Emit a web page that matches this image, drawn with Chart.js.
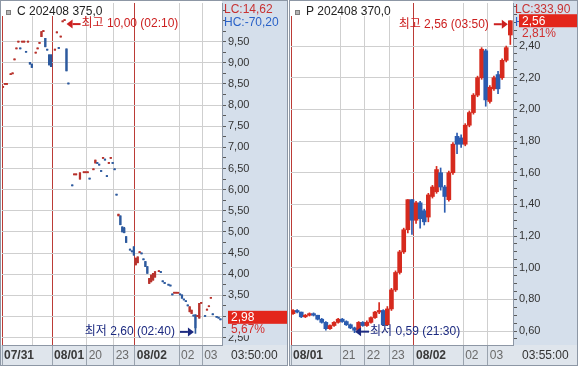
<!DOCTYPE html>
<html>
<head>
<meta charset="utf-8">
<script src="https://cdn.jsdelivr.net/npm/chart.js@4.4.1/dist/chart.umd.min.js"></script>
<style>
  html, body { margin: 0; padding: 0; background: #fff; }
  #wrap { position: relative; width: 578px; height: 366px; overflow: hidden; }
  .panel { position: absolute; top: 0; height: 366px; box-sizing: border-box; border: 1px solid #8d97a5; }
  .panel canvas { display: block; }
</style>
</head>
<body>
<div id="wrap">
  <div class="panel" style="left:0;width:288px"><canvas id="leftChart" width="286" height="364"></canvas></div>
  <div class="panel" style="left:289px;width:289px"><canvas id="rightChart" width="287" height="364"></canvas></div>
</div>
<script>
const FONT = '"Liberation Sans", "Noto Sans CJK KR", sans-serif';
const UP = "#d62a1e";
const DOWN = "#2b5cb0";
const GRID = "#cfcfcf";
const DATE_LINE = "#bb3b36";
const Y_BAND = "#d5dfeb";
const X_BAND = "#dfe5ec";
const AXIS_LINE = "#8d97a5";

// left panel: C 202408 375.0, 5 min bars (slot index)
const leftIdx = [0,1,2,4,5,6,7,8,9,10,11,12,13,14,15,17,18,19,20,21,22,23,24,25,27,28,29,30,31,32,33,34,
  36,37,38,40,42,43,44,45,47,48,49,50,51,52,53,54,55,56,57,58,59,
  60,61,62,63,64,66,67,68,69,70,71,72,73,74,75,76,77,78,79,81,82,83,84,86,87,88,89,90,91,92,93,94,95,96,97,98,99,100,101,102,103,105,106,107,108,109,111,112,113];
const leftOpen = [8.42,8.49,8.49,8.72,8.74,9.07,9.33,9.49,9.33,9.49,9.49,9.25,9.49,9.01,8.97,9.23,9.33,9.46,9.62,9.74,9.58,9.30,9.19,9.19,9.30,9.71,9.34,9.61,9.97,10.00,9.33,8.50,
  6.09,6.35,6.35,6.25,6.40,6.40,6.40,6.25,6.47,6.63,6.62,6.58,6.43,6.74,6.70,6.31,6.62,6.74,6.62,6.47,5.87,
  5.38,5.38,5.12,5.09,4.89,4.57,4.53,4.65,4.22,4.27,4.51,4.48,4.34,4.30,4.18,3.78,3.82,3.86,3.93,4.06,4.04,3.82,3.78,3.74,3.72,3.51,3.55,3.55,3.55,3.51,3.51,3.39,3.35,3.25,3.11,3.07,3.01,3.04,3.00,2.96,3.31,3.00,3.15,3.23,3.43,3.04,2.98,2.96,2.92];
const leftHigh = [8.42,8.49,8.49,8.72,8.74,9.07,9.33,9.49,9.33,9.49,9.49,9.25,9.49,9.01,8.97,9.23,9.33,9.46,9.74,9.74,9.58,9.30,9.19,9.19,9.30,9.71,9.34,9.61,9.97,10.00,9.33,8.50,
  6.09,6.35,6.35,6.40,6.40,6.40,6.40,6.25,6.47,6.70,6.62,6.58,6.43,6.74,6.70,6.31,6.62,6.74,6.62,6.47,5.87,
  5.42,5.38,5.12,5.11,4.89,4.57,4.53,4.65,4.38,4.41,4.51,4.48,4.34,4.30,4.18,3.90,3.98,4.02,4.06,4.06,4.04,3.82,3.78,3.74,3.72,3.51,3.55,3.55,3.55,3.51,3.51,3.39,3.35,3.25,3.23,3.15,3.01,3.04,3.00,3.31,3.31,3.00,3.15,3.23,3.43,3.04,2.98,2.96,2.92];
const leftLow = [8.42,8.49,8.49,8.72,8.74,9.07,9.33,9.49,9.33,9.49,9.49,9.25,9.49,8.97,8.89,9.23,9.33,9.46,9.62,9.74,9.38,9.30,8.95,8.91,9.30,9.71,9.34,9.61,9.97,10.00,8.81,8.50,
  6.09,6.35,6.35,6.25,6.40,6.40,6.40,6.25,6.47,6.63,6.62,6.58,6.43,6.74,6.70,6.31,6.62,6.74,6.62,6.47,5.87,
  5.38,5.17,5.00,4.98,4.75,4.57,4.53,4.45,4.22,4.27,4.51,4.48,4.34,4.18,4.02,3.78,3.82,3.86,3.93,4.06,4.04,3.82,3.78,3.74,3.72,3.51,3.55,3.55,3.55,3.51,3.43,3.39,3.35,3.25,3.11,3.07,3.01,2.60,3.00,2.96,3.31,3.00,3.15,3.23,3.43,3.04,2.98,2.96,2.92];
const leftClose = [8.42,8.49,8.49,8.72,8.74,9.07,9.33,9.49,9.33,9.49,9.49,9.25,9.49,8.97,8.89,9.23,9.33,9.46,9.74,9.74,9.38,9.30,8.95,8.91,9.30,9.71,9.34,9.61,9.97,10.00,8.81,8.50,
  6.09,6.35,6.35,6.40,6.40,6.40,6.40,6.25,6.47,6.70,6.62,6.58,6.43,6.74,6.70,6.31,6.62,6.74,6.62,6.47,5.87,
  5.42,5.17,5.00,4.98,4.75,4.57,4.53,4.45,4.38,4.41,4.51,4.48,4.34,4.18,4.02,3.90,3.98,4.02,4.06,4.06,4.04,3.82,3.78,3.74,3.72,3.51,3.55,3.55,3.55,3.51,3.43,3.39,3.35,3.25,3.23,3.15,3.01,2.73,3.00,3.31,3.31,3.00,3.15,3.23,3.43,3.04,2.98,2.96,2.92];
const leftTickPos = [0, 16, 26, 44, 58, 69, 92, 104];
const leftTickLabels = ["07/31", "", "08/01", "20", "23", "08/02", "02", "03"];
const leftYLabels = [2.5, 3, 3.5, 4, 4.5, 5, 5.5, 6, 6.5, 7, 7.5, 8, 8.5, 9, 9.5];
const leftInfo = ["C 202408 375,0", "LC:14,62", "HC:-70,20", "5,67%", "03:50:00"];
const leftLast = 2.98;
const leftExtremeTimes = ["02:10", "02:40"];

// right panel: P 202408 370.0, 10 min bars from 19:00
const rightIdx = [0,1,2,3,4,5,6,7,8,9,10,11,12,13,14,15,16,17,18,19,20,21,22,23,24,25,26,
  27,28,29,30,31,32,33,34,35,36,37,38,39,40,41,42,43,44,45,46,47,48,49,50,51,52,53];
const rightOpen = [.71,.73,.72,.69,.70,.71,.70,.675,.655,.615,.635,.655,.675,.66,.64,.62,.605,.655,.635,.655,
  .685,.72,.73,.64,.74,.86,.97,1.10,1.24,1.43,1.30,1.41,1.36,1.32,1.45,1.48,1.60,1.51,1.43,1.60,
  1.83,1.82,1.78,1.90,1.98,2.09,2.20,2.37,2.05,2.13,2.22,2.20,2.31,2.47];
const rightHigh = [.735,.735,.72,.705,.715,.715,.70,.68,.66,.64,.66,.68,.68,.665,.645,.625,.66,.66,.665,.69,
  .725,.78,.735,.755,.87,.98,1.11,1.25,1.43,1.43,1.42,1.42,1.37,1.47,1.52,1.64,1.63,1.52,1.61,1.79,
  1.85,1.84,1.91,1.99,2.10,2.21,2.39,2.38,2.15,2.21,2.24,2.32,2.40,2.56];
const rightLow = [.705,.715,.685,.685,.695,.695,.67,.65,.605,.61,.63,.65,.655,.635,.615,.59,.60,.63,.63,.65,
  .68,.71,.635,.635,.73,.85,.96,1.09,1.22,1.21,1.28,1.25,1.27,1.29,1.44,1.47,1.49,1.35,1.42,1.59,
  1.72,1.76,1.77,1.89,1.97,2.08,2.19,2.02,2.04,2.12,2.10,2.19,2.30,2.41];
const rightClose = [.73,.72,.69,.70,.71,.70,.675,.655,.615,.635,.655,.675,.66,.64,.62,.605,.655,.635,.655,.685,
  .72,.73,.64,.74,.86,.97,1.10,1.24,1.43,1.30,1.41,1.31,1.29,1.46,1.51,1.62,1.51,1.45,1.60,1.78,
  1.78,1.78,1.90,1.98,2.09,2.20,2.38,2.06,2.14,2.20,2.13,2.31,2.39,2.56];
const rightTickPos = [0, 12, 18, 24, 30, 42, 48];
const rightTickLabels = ["08/01", "21", "22", "23", "08/02", "02", "03"];
const rightYLabels = [0.6, 0.8, 1.0, 1.2, 1.4, 1.6, 1.8, 2.0, 2.2, 2.4];
const rightInfo = ["P 202408 370,0", "LC:333,90", "HC:", "2,81%", "03:55:00"];
const rightLast = 2.56;
const rightExtremeTimes = ["03:50", "21:30"];

Chart.defaults.font.family = FONT;

const fmt = v => v.toFixed(2).replace(".", ",");
const isDate = s => s.indexOf("/") >= 0;

function drawMark(ctx, px, py, m, color, text) {
  const tx = px + m.dx, ty = py + m.dy;
  ctx.fillStyle = color;
  ctx.strokeStyle = color;
  ctx.lineWidth = 2;
  ctx.beginPath();
  ctx.moveTo(tx, ty);
  ctx.lineTo(tx - m.dir * 6, ty - 4.5);
  ctx.lineTo(tx - m.dir * 6, ty + 4.5);
  ctx.closePath();
  ctx.fill();
  ctx.beginPath();
  ctx.moveTo(tx - m.dir * 6, ty);
  ctx.lineTo(tx - m.dir * 14, ty);
  ctx.stroke();
  if (m.dir < 0) {
    ctx.textAlign = "left";
    ctx.fillText(text, tx + 15, ty);
  } else {
    ctx.textAlign = "right";
    ctx.fillText(text, tx - 19, ty);
  }
}

function decoPlugin(d) {
  return {
    id: "deco",
    beforeDraw(chart) {
      const { ctx, chartArea: a, width, height } = chart;
      ctx.save();
      ctx.fillStyle = "#fff";
      ctx.fillRect(0, 0, width, height);
      ctx.fillStyle = Y_BAND;
      ctx.fillRect(a.right, 0, width - a.right, a.bottom);
      ctx.fillStyle = X_BAND;
      ctx.fillRect(0, a.bottom, width, height - a.bottom);
      ctx.restore();
    },
    afterDraw(chart) {
      const { ctx, chartArea: a, width, scales: { x, y } } = chart;
      ctx.save();
      ctx.textBaseline = "middle";
      ctx.font = "12px " + FONT;

      // title block
      const hw = ctx.measureText(d.info[0]).width;
      ctx.fillStyle = "#fff";
      ctx.fillRect(a.left, a.top, hw + 18, 13);
      ctx.fillStyle = "#b5b5b5";
      ctx.fillRect(a.left + 4, a.top + 7, 5, 5);
      ctx.strokeStyle = "#7d7d7d";
      ctx.lineWidth = 1;
      ctx.strokeRect(a.left + 4.5, a.top + 7.5, 4, 4);
      ctx.fillStyle = "#222";
      ctx.fillText(d.info[0], a.left + 15, a.top + 9);

      // LC / HC
      ctx.fillStyle = "#c83232";
      ctx.fillText(d.info[1], y.left + 2, 9);
      ctx.fillStyle = "#2a62c8";
      ctx.fillText(d.info[2], y.left + 2, 22);

      // last price box + change
      const py = y.getPixelForValue(d.last);
      const bx = y.left + 6;
      ctx.fillStyle = Y_BAND;
      ctx.fillRect(bx, py + 6, width - bx, 12);
      ctx.fillStyle = "#e3261b";
      ctx.fillRect(bx, py - 6.5, width - bx, 13);
      ctx.fillStyle = "#fff";
      ctx.fillText(fmt(d.last), bx + 3, py + 0.5);
      ctx.fillStyle = "#d03030";
      ctx.fillText(d.info[3], bx + 3, py + 12.5);

      // time in the corner
      ctx.fillStyle = "#333";
      ctx.fillText(d.info[4], y.left + 9, a.bottom + 11);

      // high / low marks
      const hiK = d.high.indexOf(Math.max(...d.high));
      const loK = d.low.indexOf(Math.min(...d.low));
      drawMark(ctx, x.getPixelForValue(d.idx[hiK] + 0.5), y.getPixelForValue(d.high[hiK]), d.hiMark,
        "#cc2020", "최고 " + fmt(d.high[hiK]) + " (" + d.times[0] + ")");
      drawMark(ctx, x.getPixelForValue(d.idx[loK] + 0.5), y.getPixelForValue(d.low[loK]), d.loMark,
        "#1c2a80", "최저 " + fmt(d.low[loK]) + " (" + d.times[1] + ")");
      ctx.restore();
    }
  };
}

function makeChart(id, d) {
  const colors = d.idx.map((_, k) => {
    const o = d.open[k], c = d.close[k];
    const prev = k > 0 ? d.close[k - 1] : o;
    const up = c > o || (c === o && c >= prev);
    return up ? d.up : d.down;
  });
  const isMajor = v => d.yLabels.some(m => Math.abs(m - v) < 1e-6);

  return new Chart(document.getElementById(id), {
    type: "bar",
    data: {
      datasets: [
        {
          data: d.idx.map((i, k) => ({ x: i + 0.5, y: [d.low[k], d.high[k]] })),
          backgroundColor: colors,
          barThickness: 1,
          minBarLength: 1,
          grouped: false
        },
        {
          data: d.idx.map((i, k) => ({ x: i + 0.5, y: [d.open[k], d.close[k]] })),
          backgroundColor: colors,
          barThickness: d.body,
          minBarLength: 1,
          grouped: false
        }
      ]
    },
    options: {
      responsive: false,
      animation: false,
      events: [],
      layout: { padding: { left: 1, top: 2, right: 0, bottom: 0 } },
      plugins: { legend: { display: false }, tooltip: { enabled: false } },
      scales: {
        x: {
          type: "linear",
          min: 0,
          max: d.xMax,
          offset: false,
          afterBuildTicks: s => { s.ticks = d.tickPos.map(v => ({ value: v })); },
          afterFit: s => { s.height = 20; s.paddingLeft = 0; s.paddingRight = 0; },
          grid: {
            offset: false,
            color: c => (c.tick && isDate(d.tickLabels[c.index])) ? DATE_LINE : GRID,
            tickLength: 20,
            tickColor: c => (c.tick && d.tickLabels[c.index] === "") ? "rgba(0,0,0,0)" : "#9aa3ae"
          },
          border: { color: AXIS_LINE },
          ticks: {
            autoSkip: false,
            maxRotation: 0,
            align: "start",
            labelOffset: 2,
            padding: -16.5,
            callback: (v, k) => d.tickLabels[k],
            font: c => ({ family: FONT, size: 12, weight: isDate(d.tickLabels[c.index] || "") ? "bold" : "normal" }),
            color: c => isDate(d.tickLabels[c.index] || "") ? "#3a3a3a" : "#6a6a6a"
          }
        },
        y: {
          type: "linear",
          position: "right",
          min: d.yMin,
          max: d.yMax,
          afterBuildTicks: s => {
            const out = [];
            for (let k = Math.ceil(d.yMin / d.minorStep); k * d.minorStep <= d.yMax; k++) {
              out.push({ value: +(k * d.minorStep).toFixed(4) });
            }
            s.ticks = out;
          },
          afterFit: s => { s.width = d.yWidth; s.paddingTop = 0; s.paddingBottom = 0; },
          grid: {
            color: c => (c.tick && isMajor(c.tick.value)) ? GRID : "rgba(0,0,0,0)",
            tickLength: 4,
            tickColor: "#5a5a5a"
          },
          border: { color: AXIS_LINE },
          ticks: {
            autoSkip: false,
            padding: 2,
            callback: v => isMajor(v) ? fmt(v) : "",
            font: { family: FONT, size: 11 },
            color: "#333"
          }
        }
      }
    },
    plugins: [decoPlugin(d)]
  });
}

makeChart("leftChart", {
  idx: leftIdx, open: leftOpen, high: leftHigh, low: leftLow, close: leftClose,
  tickPos: leftTickPos, tickLabels: leftTickLabels, yLabels: leftYLabels,
  info: leftInfo, last: leftLast, times: leftExtremeTimes,
  xMax: 114.3, yMin: 2.325, yMax: 10.416, minorStep: 0.25,
  body: 1.6, yWidth: 65, up: "#b8322c", down: "#2d5a9e",
  hiMark: { dir: -1, dx: 2, dy: 3.5 },
  loMark: { dir: 1, dx: -1.5, dy: -1.5 }
});

makeChart("rightChart", {
  idx: rightIdx, open: rightOpen, high: rightHigh, low: rightLow, close: rightClose,
  tickPos: rightTickPos, tickLabels: rightTickLabels, yLabels: rightYLabels,
  info: rightInfo, last: rightLast, times: rightExtremeTimes,
  xMax: 54.15, yMin: 0.512, yMax: 2.672, minorStep: 0.05,
  body: 4, yWidth: 64, up: UP, down: DOWN,
  hiMark: { dir: 1, dx: -2.5, dy: 3.5 },
  loMark: { dir: -1, dx: 0.5, dy: -1 }
});
</script>
</body>
</html>
